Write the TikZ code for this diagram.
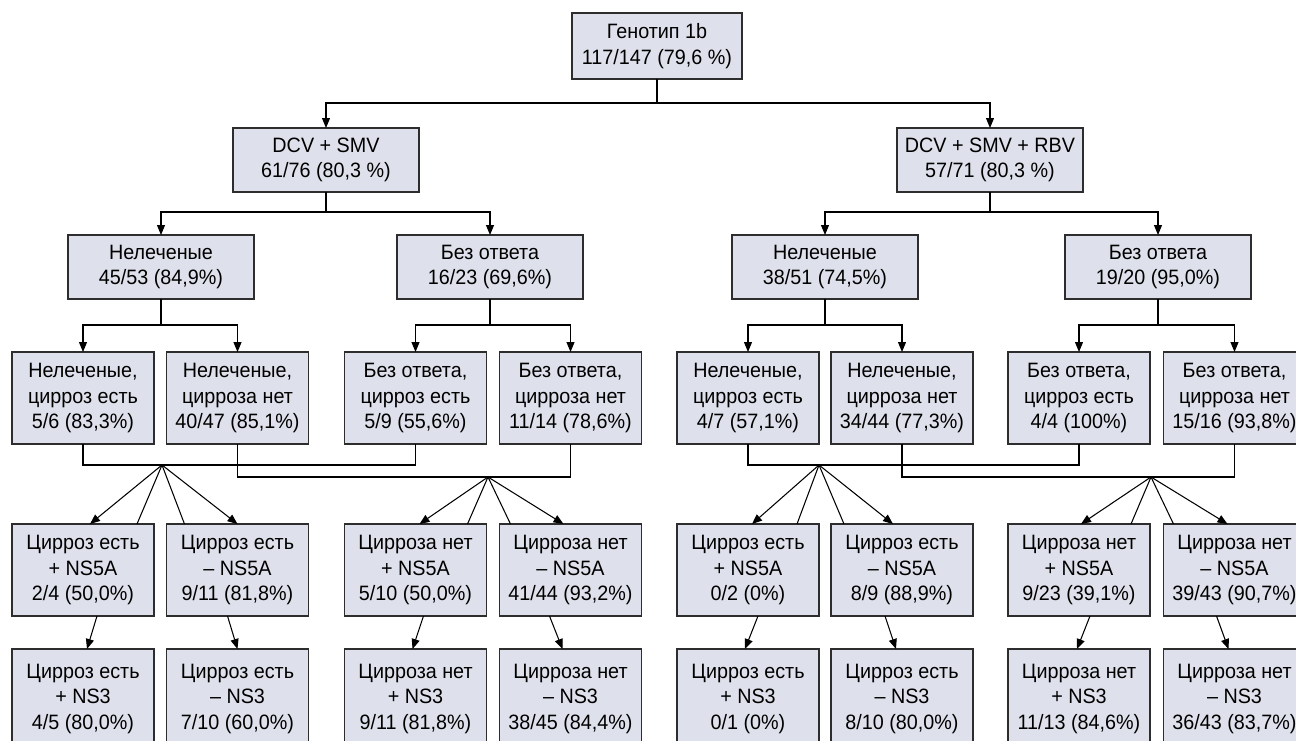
\documentclass[tikz,border=0pt]{standalone}
\usepackage{fontspec}
\setmainfont[FakeStretch=0.95]{Liberation Sans}
\usetikzlibrary{arrows.meta}
\definecolor{boxfill}{RGB}{222,225,235}
\definecolor{boxline}{RGB}{45,45,45}
\begin{document}
\begin{tikzpicture}[x=1pt,y=-1pt,
  box/.style={draw=boxline, line width=1.15pt, fill=boxfill, inner sep=0pt, outer sep=0pt,
    align=center, anchor=north, font=\fontsize{20.8}{25.5}\selectfont},
  topbox/.style={box, minimum width=170pt, minimum height=66pt},
  bigbox/.style={box, minimum width=186pt, minimum height=64pt},
  smallbox/.style={box, minimum width=142pt, minimum height=92pt},
  lastbox/.style={box, minimum width=142pt, minimum height=100pt, text depth=5pt},
  conn/.style={draw=black, line width=1.05pt},
  arr/.style={conn, -{Triangle[length=10pt,width=8pt]}}]
\useasboundingbox (0,0) rectangle (1296,740);
\clip (0,0) rectangle (1296,740);
\fill[white] (0,0) rectangle (1296,740);

% level 0
\node[topbox] (g) at (657,13) {Генотип 1b\\117/147 (79,6 \%)};
% level 1
\node[bigbox] (a) at (326,128) {DCV + SMV\\61/76 (80,3 \%)};
\node[bigbox] (b) at (990,128) {DCV + SMV + RBV\\57/71 (80,3 \%)};
% level 2
\node[bigbox] (a1) at (161,235) {Нелеченые\\45/53 (84,9\%)};
\node[bigbox] (a2) at (490,235) {Без ответа\\16/23 (69,6\%)};
\node[bigbox] (b1) at (825,235) {Нелеченые\\38/51 (74,5\%)};
\node[bigbox] (b2) at (1158,235) {Без ответа\\19/20 (95,0\%)};
% level 3
\node[smallbox] (c1) at (83,352) {Нелеченые,\\цирроз есть\\5/6 (83,3\%)};
\node[smallbox] (c2) at (237.5,352) {Нелеченые,\\цирроза нет\\40/47 (85,1\%)};
\node[smallbox] (c3) at (415.5,352) {Без ответа,\\цирроз есть\\5/9 (55,6\%)};
\node[smallbox] (c4) at (570.5,352) {Без ответа,\\цирроза нет\\11/14 (78,6\%)};
\node[smallbox] (c5) at (748,352) {Нелеченые,\\цирроз есть\\4/7 (57,1\%)};
\node[smallbox] (c6) at (902,352) {Нелеченые,\\цирроза нет\\34/44 (77,3\%)};
\node[smallbox] (c7) at (1079,352) {Без ответа,\\цирроз есть\\4/4 (100\%)};
\node[smallbox] (c8) at (1234.5,352) {Без ответа,\\цирроза нет\\15/16 (93,8\%)};
% level 4
\node[smallbox] (d1) at (83,524) {Цирроз есть\\+ NS5A\\2/4 (50,0\%)};
\node[smallbox] (d2) at (237.5,524) {Цирроз есть\\– NS5A\\9/11 (81,8\%)};
\node[smallbox] (d3) at (415.5,524) {Цирроза нет\\+ NS5A\\5/10 (50,0\%)};
\node[smallbox] (d4) at (570.5,524) {Цирроза нет\\– NS5A\\41/44 (93,2\%)};
\node[smallbox] (d5) at (748,524) {Цирроз есть\\+ NS5A\\0/2 (0\%)};
\node[smallbox] (d6) at (902,524) {Цирроз есть\\– NS5A\\8/9 (88,9\%)};
\node[smallbox] (d7) at (1079,524) {Цирроза нет\\+ NS5A\\9/23 (39,1\%)};
\node[smallbox] (d8) at (1234.5,524) {Цирроза нет\\– NS5A\\39/43 (90,7\%)};
% level 5 (cut off at the bottom edge)
\node[lastbox] (e1) at (83,649) {Цирроз есть\\+ NS3\\4/5 (80,0\%)};
\node[lastbox] (e2) at (237.5,649) {Цирроз есть\\– NS3\\7/10 (60,0\%)};
\node[lastbox] (e3) at (415.5,649) {Цирроза нет\\+ NS3\\9/11 (81,8\%)};
\node[lastbox] (e4) at (570.5,649) {Цирроза нет\\– NS3\\38/45 (84,4\%)};
\node[lastbox] (e5) at (748,649) {Цирроз есть\\+ NS3\\0/1 (0\%)};
\node[lastbox] (e6) at (902,649) {Цирроз есть\\– NS3\\8/10 (80,0\%)};
\node[lastbox] (e7) at (1079,649) {Цирроза нет\\+ NS3\\11/13 (84,6\%)};
\node[lastbox] (e8) at (1234.5,649) {Цирроза нет\\– NS3\\36/43 (83,7\%)};

% tree connectors
\draw[arr] (g.south) -- ++(0,24) -| (a.north);
\draw[arr] (g.south) -- ++(0,24) -| (b.north);
\draw[arr] (a.south) -- ++(0,20) -| (a1.north);
\draw[arr] (a.south) -- ++(0,20) -| (a2.north);
\draw[arr] (b.south) -- ++(0,20) -| (b1.north);
\draw[arr] (b.south) -- ++(0,20) -| (b2.north);
\draw[arr] (a1.south) -- ++(0,26) -| (c1.north);
\draw[arr] (a1.south) -- ++(0,26) -| (c2.north);
\draw[arr] (a2.south) -- ++(0,26) -| (c3.north);
\draw[arr] (a2.south) -- ++(0,26) -| (c4.north);
\draw[arr] (b1.south) -- ++(0,26) -| (c5.north);
\draw[arr] (b1.south) -- ++(0,26) -| (c6.north);
\draw[arr] (b2.south) -- ++(0,26) -| (c7.north);
\draw[arr] (b2.south) -- ++(0,26) -| (c8.north);

% join lines
\draw[conn] (c1.south) -- ++(0,21) -| (c3.south);
\draw[conn] (c2.south) -- ++(0,33) -| (c4.south);
\draw[conn] (c5.south) -- ++(0,21) -| (c7.south);
\draw[conn] (c6.south) -- ++(0,33) -| (c8.south);

% fan apexes
\coordinate (f1) at (162,465);
\coordinate (f2) at (488,477);
\coordinate (f3) at (819,465);
\coordinate (f4) at (1151,477);

\draw[arr]  (f1) -- ([xshift=7pt]d1.north);
\draw[conn] (f1) -- ([xshift=-17pt]d1.north east);
\draw[conn] (f1) -- ([xshift=18pt]d2.north west);
\draw[arr]  (f1) -- ([xshift=0pt]d2.north);

\draw[arr]  (f2) -- ([xshift=4pt]d3.north);
\draw[conn] (f2) -- ([xshift=-19pt]d3.north east);
\draw[conn] (f2) -- ([xshift=11pt]d4.north west);
\draw[arr]  (f2) -- ([xshift=-7pt]d4.north);

\draw[arr]  (f3) -- ([xshift=4pt]d5.north);
\draw[conn] (f3) -- ([xshift=-22pt]d5.north east);
\draw[conn] (f3) -- ([xshift=13pt]d6.north west);
\draw[arr]  (f3) -- ([xshift=-9pt]d6.north);

\draw[arr]  (f4) -- ([xshift=2pt]d7.north);
\draw[conn] (f4) -- ([xshift=-19pt]d7.north east);
\draw[conn] (f4) -- ([xshift=10pt]d8.north west);
\draw[arr]  (f4) -- ([xshift=-7pt]d8.north);

% level 4 -> 5
\draw[arr] ([xshift=14pt]d1.south) -- ([xshift=4pt]e1.north);
\draw[arr] ([xshift=-10pt]d2.south) -- ([xshift=0pt]e2.north);
\draw[arr] ([xshift=8pt]d3.south) -- ([xshift=-3pt]e3.north);
\draw[arr] ([xshift=-21pt]d4.south) -- ([xshift=-8pt]e4.north);
\draw[arr] ([xshift=10pt]d5.south) -- ([xshift=-3pt]e5.north);
\draw[arr] ([xshift=-17pt]d6.south) -- ([xshift=-6pt]e6.north);
\draw[arr] ([xshift=11pt]d7.south) -- ([xshift=-2pt]e7.north);
\draw[arr] ([xshift=-18pt]d8.south) -- ([xshift=-6pt]e8.north);
\end{tikzpicture}
\end{document}
